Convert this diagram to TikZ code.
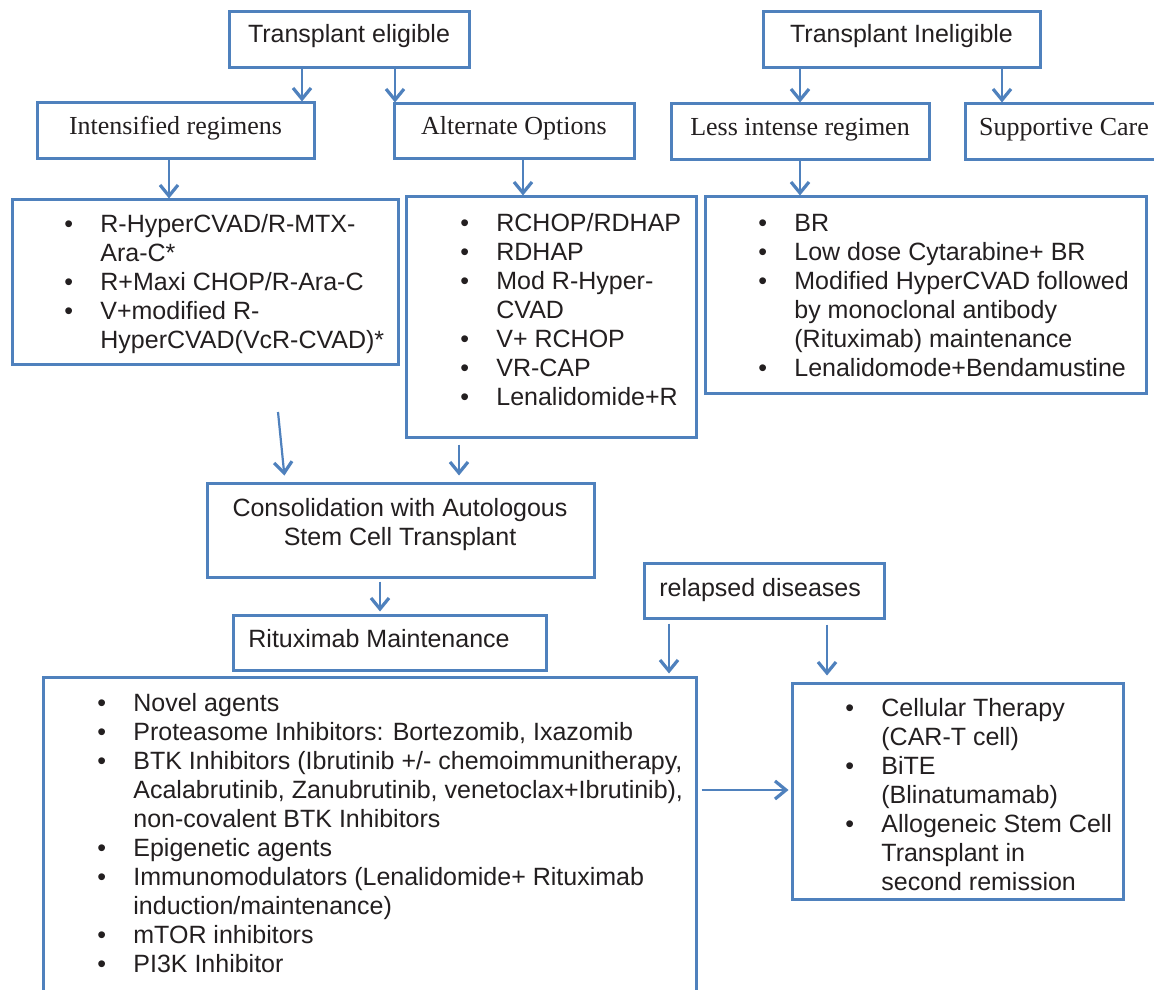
\documentclass[tikz,border=0pt]{standalone}
\usepackage{fontspec}
\setmainfont{Liberation Sans}
\newfontfamily\serifr{Liberation Serif}
\usetikzlibrary{arrows.meta,calc}
\definecolor{bblue}{HTML}{4F81BD}
\definecolor{ink}{HTML}{231F20}
\newcommand{\bu}{\makebox[18pt][l]{\textbullet}}
\newcommand{\ind}{\hspace*{18pt}}
\begin{document}
\begin{tikzpicture}[x=0.5pt,y=-0.5pt,
  box/.style={draw=bblue, line width=1.5pt, inner sep=0pt, rectangle, text=ink},
  topbox/.style={box, font=\fontsize{12.5}{14.5}\selectfont, text height=9pt, text depth=6pt},
  serbox/.style={box, font=\serifr\fontsize{13}{15}\selectfont, text height=9pt, text depth=5.5pt},
  txt/.style={inner sep=0pt, text=ink, font=\fontsize{12.5}{14.5}\selectfont},
  lst/.style={txt, align=left, anchor=north west},
  arr/.style={draw=bblue, line width=1.3pt, -{Straight Barb[length=5.5pt,width=9pt,line width=1.6pt]}},
  arrthin/.style={arr, line width=1.1pt}
]
\useasboundingbox (0,0) rectangle (1154,989);
\clip (0,0) rectangle (1154,989);
\fill[white] (0,0) rectangle (1154,989);

% top row
\node[topbox, minimum width=120pt, minimum height=28pt] (te) at (349,40) {Transplant eligible};
\node[topbox, minimum width=138.5pt, minimum height=28pt] (ti) at (901.5,40) {Transplant Ineligible};

% second row
\node[serbox, minimum width=138.5pt, minimum height=28pt] (ir) at (175.5,131) {Intensified regimens};
\node[serbox, minimum width=120pt, minimum height=27.5pt] (ao) at (514,131.5) {Alternate Options};
\node[serbox, minimum width=129pt, minimum height=28pt] (li) at (800,132) {Less intense regimen};
\node[serbox, minimum width=99pt, minimum height=28pt] (sc) at (1064,132) {Supportive Care};

% list boxes
\node[box, minimum width=193pt, minimum height=82pt] (irl) at (205,282) {};
\node[box, minimum width=145pt, minimum height=120pt] (aol) at (551,317) {};
\node[box, minimum width=220.5pt, minimum height=98pt] (lil) at (925.5,295) {};

\node[lst] (irlt) at (64,212) {\strut\bu R-HyperCVAD/R-MTX-\\\ind Ara-C*\\\bu R+Maxi CHOP/R-Ara-C\\\bu V+modified R-\\\ind HyperCVAD(VcR-CVAD)*};
\node[lst] (aolt) at (460,211) {\strut\bu RCHOP/RDHAP\\\bu RDHAP\\\bu Mod R-Hyper-\\\ind CVAD\\\bu V+ RCHOP\\\bu VR-CAP\\\bu Lenalidomide+R};
\node[lst] (lilt) at (758,211) {\strut\bu BR\\\bu Low dose Cytarabine+ BR\\\bu Modified HyperCVAD followed\\\ind by monoclonal antibody\\\ind (Rituximab) maintenance\\\bu Lenalidomode+Bendamustine};

% middle
\node[box, minimum width=193.5pt, minimum height=47pt] (cons) at (400.5,530) {};
\node[txt, align=center, anchor=north] (const) at (400,496) {\strut Consolidation with Autologous\\Stem Cell Transplant};
\node[box, minimum width=156.5pt, minimum height=27.5pt] (rm) at (389.5,642.5) {};
\node[txt, anchor=base west] (rmt) at (248,647) {Rituximab Maintenance};
\node[box, minimum width=120pt, minimum height=27.5pt] (rel) at (764,590.5) {};
\node[txt, anchor=base west] (relt) at (659,596) {relapsed diseases};

% bottom
\node[box, minimum width=326.5pt, minimum height=166.5pt] (big) at (369.5,843.5) {};
\node[lst] (bigt) at (97,691) {\strut\bu Novel agents\\\bu Proteasome Inhibitors: Bortezomib, Ixazomib\\\bu BTK Inhibitors (Ibrutinib +/- chemoimmunitherapy,\\\ind Acalabrutinib, Zanubrutinib, venetoclax+Ibrutinib),\\\ind non-covalent BTK Inhibitors\\\bu Epigenetic agents\\\bu Immunomodulators (Lenalidomide+ Rituximab\\\ind induction/maintenance)\\\bu mTOR inhibitors\\\bu PI3K Inhibitor};
\node[box, minimum width=165.5pt, minimum height=108pt] (rgt) at (957.5,791) {};
\node[lst] (rgtt) at (845,696) {\strut\bu Cellular Therapy\\\ind (CAR-T cell)\\\bu BiTE\\\ind (Blinatumamab)\\\bu Allogeneic Stem Cell\\\ind Transplant in\\\ind second remission};

% connectors
\draw[arr] ($(te.south)+(-47,0)$) -- ($(ir.north)+(126.5,0)$);
\draw[arr] ($(te.south)+(46,0)$) -- ($(ao.north)+(-119,0)$);
\draw[arr] ($(ti.south)+(-101.5,0)$) -- ($(li.north)+(0,0)$);
\draw[arr] ($(ti.south)+(100.5,0)$) -- ($(sc.north)+(-62,0)$);
\draw[arr] ($(ir.south)+(-6.5,0)$) -- ($(irl.north)+(-36,0)$);
\draw[arr] ($(ao.south)+(9,0)$) -- ($(aol.north)+(-28,0)$);
\draw[arr] ($(li.south)+(0,0)$) -- ($(lil.north)+(-125.5,0)$);
\coordinate (s1) at (278,412);
\draw[arrthin, shorten >=3pt] (s1) -- ($(cons.north)+(-115.5,0)$);
\draw[arrthin, shorten <=3pt, shorten >=3pt] ($(aol.south)+(-92,0)$) -- ($(cons.north)+(58.5,0)$);
\draw[arrthin, shorten <=1.5pt, shorten >=1pt] ($(cons.south)+(-20.5,0)$) -- ($(rm.north)+(-9.5,0)$);
\draw[arrthin, shorten <=2pt, shorten >=1pt] ($(rel.south)+(-95,0)$) -- ($(big.north)+(299.5,0)$);
\draw[arrthin, shorten <=2.5pt, shorten >=3pt] ($(rel.south)+(63,0)$) -- ($(rgt.north)+(-130.5,0)$);
\draw[arrthin, shorten <=2pt, shorten >=1pt] ($(big.east)+(0,-53.5)$) -- ($(rgt.west)+(0,-1)$);
\end{tikzpicture}
\end{document}
